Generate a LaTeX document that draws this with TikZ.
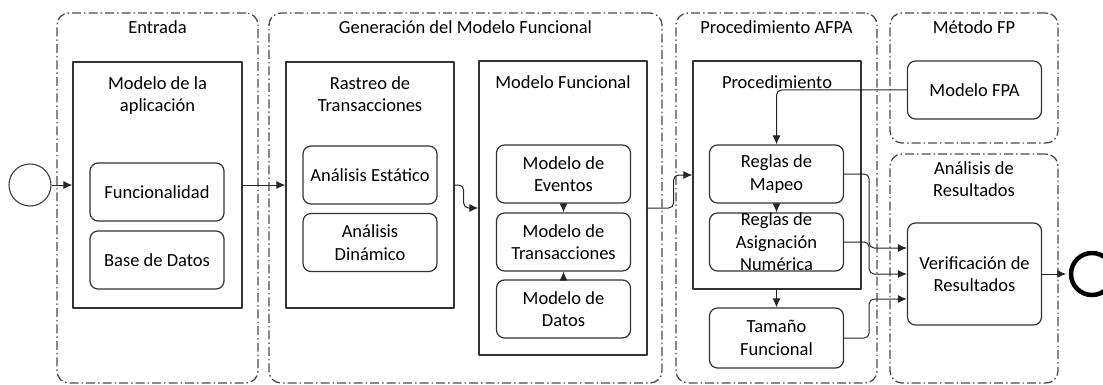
\documentclass[tikz,border=0pt]{standalone}
\usepackage{fontspec}
\setmainfont{Carlito}
\usetikzlibrary{positioning,arrows.meta}
\tikzset{
  carril/.style={draw=black!70, line width=1.3pt, dash pattern=on 9pt off 3pt on 1.5pt off 3pt, rounded corners=12pt, inner sep=0pt},
  grupo/.style={draw=black!80, line width=1.2pt, inner sep=0pt},
  tarea/.style={draw=black!80, line width=1.2pt, rounded corners=8pt, align=center, inner sep=0pt, minimum width=134pt, minimum height=58pt},
  titulo/.style={align=center, inner sep=0pt},
  flujo/.style={->, draw=black!85, line width=1pt, rounded corners=5pt},
}
\begin{document}
\begin{tikzpicture}[x=1pt, y=-1pt, font=\fontsize{18.5}{22.5}\selectfont, line join=round, >={Latex[length=9pt,width=8pt]}]
\useasboundingbox (0,0) rectangle (1103,385);
% carriles
\foreach \nm/\cx/\cy/\ancho/\alto/\ttl in {entrada/157.5/198/201pt/370pt/Entrada,
    generacion/465.5/198/393pt/370pt/Generación del Modelo Funcional,
    afpa/776.5/198/201pt/370pt/Procedimiento AFPA,
    metodo/974/78/168pt/130pt/Método FP,
    analisis/974/268.5/168pt/229pt/{Análisis de\\Resultados}}{
  \node[carril, minimum width=\ancho, minimum height=\alto] (\nm) at (\cx,\cy) {};
  \node[titulo, below=8pt of \nm.north] {\ttl};
}
% grupos
\node[grupo, minimum width=169pt, minimum height=246pt] (app) at (157.5,185) {};
\node[titulo, below=15pt of app.north] {Modelo de la\\aplicación};
\node[grupo, minimum width=168pt, minimum height=246pt] (rastreo) at (370,185) {};
\node[titulo, below=15pt of rastreo.north] {Rastreo de\\Transacciones};
\node[grupo, minimum width=168pt, minimum height=294pt] (modfun) at (563,208) {};
\node[titulo, below=15pt of modfun.north] {Modelo Funcional};
\node[grupo, minimum width=168pt, minimum height=228pt] (proc) at (777,175) {};
\node[titulo, below=15pt of proc.north] {Procedimiento};
% tareas
\node[tarea] (func) at (157,192) {Funcionalidad};
\node[tarea] (bd) at (157,260) {Base de Datos};
\node[tarea] (estat) at (370,175) {Análisis Estático};
\node[tarea] (dinam) at (370,242.5) {Análisis\\Dinámico};
\node[tarea] (eventos) at (563.5,174) {Modelo de\\Eventos};
\node[tarea] (trans) at (563.5,242) {Modelo de\\Transacciones};
\node[tarea] (datos) at (563.5,309) {Modelo de\\Datos};
\node[tarea] (mapeo) at (776.5,174) {Reglas de\\Mapeo};
\node[tarea, inner ysep=-4pt] (asig) at (776.5,242) {Reglas de\\Asignación\\Numérica};
\node[tarea, minimum height=60pt] (tamano) at (776.5,338) {Tamaño\\Funcional};
\node[tarea] (fpa) at (974.5,90) {Modelo FPA};
\node[tarea, minimum height=102pt] (verif) at (974.5,274) {Verificación de\\Resultados};
% eventos inicio y fin
\node[circle, draw=black!75, line width=1.1pt, minimum size=42pt, inner sep=0pt] (inicio) at (30,185) {};
\node[circle, draw=black, line width=4.5pt, minimum size=42pt, inner sep=0pt] (fin) at (1092,274) {};
% flujos
\draw[flujo] (inicio) -- (app);
\draw[flujo] (app) -- (rastreo);
\draw[flujo] (rastreo.east) -- ++(9,0) |- (modfun.west);
\draw[flujo] (modfun.east) -- ++(26,0) |- (proc.west);
\draw[flujo] (eventos) -- (trans);
\draw[flujo] (datos) -- (trans);
\draw[flujo] (fpa.west) -| (mapeo.north);
\draw[flujo] (mapeo) -- (asig);
\draw[flujo] (proc.south -| tamano.north) -- (tamano.north);
\draw[flujo] (mapeo.east) -- ++(25,0) |- ([yshift=26pt]verif.west);
\draw[flujo] (asig.east) -- ++(25,0) |- (verif.west);
\draw[flujo] (tamano.east) -- ++(25,0) |- ([yshift=-25pt]verif.west);
\draw[flujo, shorten >=2.5pt] (verif) -- (fin);
\end{tikzpicture}
\end{document}
